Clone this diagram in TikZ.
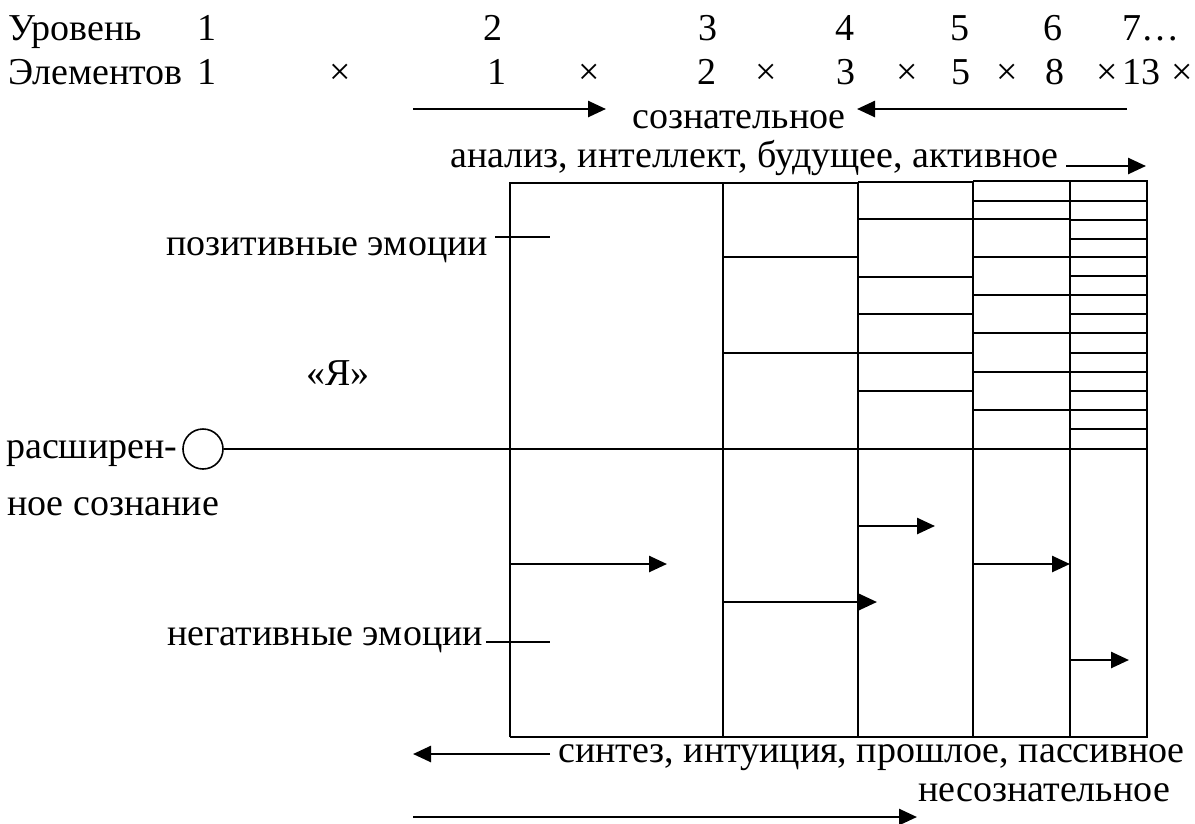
\documentclass[tikz,border=0pt]{standalone}
\usepackage{fontspec}
\setmainfont{Liberation Serif}
\newfontfamily\tnr{Liberation Serif}
\usetikzlibrary{arrows.meta}
\begin{document}
\begin{tikzpicture}[x=1pt,y=-1pt,
  txt/.style={inner sep=0pt,font=\tnr\fontsize{38}{42}\selectfont},
  lt/.style={txt,anchor=base west},
  ct/.style={txt,anchor=base},
  grid/.style={line width=1.6pt},
  arr/.style={line width=2.6pt,-{Triangle[length=18pt,width=16pt]}},
  ring/.style={circle,draw,line width=1.6pt,minimum size=40pt,inner sep=0pt}
]
\useasboundingbox (0,0) rectangle (1195,823);

% header rows
\node[lt] (lvl) at (8,40) {Уровень};
\node[ct] (l1) at (207,40) {1};
\node[ct] (l2) at (493,40) {2};
\node[ct] (l3) at (708,40) {3};
\node[ct] (l4) at (845,40) {4};
\node[ct] (l5) at (960,40) {5};
\node[ct] (l6) at (1053,40) {6};
\node[lt] (l7) at (1122,40) {7…};

\node[lt] (el) at (8,84) {Элементов};
\node[ct] (e1) at (207,84) {1};
\node[ct] (x1) at (340,84) {×};
\node[ct] (e2) at (497,84) {1};
\node[ct] (x2) at (589,84) {×};
\node[ct] (e3) at (707,84) {2};
\node[ct] (x3) at (766,84) {×};
\node[ct] (e4) at (846,84) {3};
\node[ct] (x4) at (907,84) {×};
\node[ct] (e5) at (961,84) {5};
\node[ct] (x5) at (1007,84) {×};
\node[ct] (e6) at (1055,84) {8};
\node[ct] (x6) at (1107,84) {×};
\node[ct] (e7) at (1141,84) {13};
\node[ct] (x7) at (1182,84) {×};

% top labels and arrows
\node[lt] (soz) at (632,128) {сознательное};
\coordinate (ta1) at (413,109); \coordinate (tb1) at (606,109);
\coordinate (ta2) at (1127,109); \coordinate (tb2) at (857,109);
\draw[arr] (ta1) -- (tb1);
\draw[arr] (ta2) -- (tb2);
\node[lt] (anl) at (450,167) {анализ, интеллект, будущее, активное};
\coordinate (ta3) at (1066,166); \coordinate (tb3) at (1146,166);
\draw[arr] (ta3) -- (tb3);

% box outline
\draw[grid] (510,737) -- (510,183) -- (858,183);
\draw[grid] (858,182) -- (973,182);
\draw[grid] (973,181) -- (1147,181) -- (1147,737) -- (510,737);
\draw[grid] (723,183) -- (723,737);
\draw[grid] (858,182) -- (858,737);
\draw[grid] (973,181) -- (973,737);
\draw[grid] (1070,181) -- (1070,737);

% subdivisions
\foreach \y in {257,353} \draw[grid] (723,\y) -- (858,\y);
\foreach \y in {219,277,314,353,391} \draw[grid] (858,\y) -- (973,\y);
\foreach \y in {201,219,257,295,333,372,410} \draw[grid] (973,\y) -- (1070,\y);
\foreach \y in {201,220,239,257,276,295,314,333,353,372,391,410,429} \draw[grid] (1070,\y) -- (1147,\y);

% ego line
\node[ring] (ego) at (203,449) {};
\coordinate (egoend) at (1147,449);
\draw[grid] (ego.east) -- (egoend);
\node[lt] (ya) at (306,385) {«Я»};
\node[lt] (ras1) at (6,458) {расширен-};
\node[lt] (ras2) at (7,515) {ное сознание};

% emotion labels with ticks
\node[lt] (pos) at (166,255) {позитивные эмоции};
\coordinate (pa) at (495,237); \coordinate (pb) at (550,237);
\draw[grid] (pa) -- (pb);
\node[lt] (neg) at (167,645) {негативные эмоции};
\coordinate (na) at (486,642); \coordinate (nb) at (550,642);
\draw[grid] (na) -- (nb);

% inner arrows
\coordinate (a1) at (510,564); \coordinate (b1) at (667,564);
\coordinate (a2) at (723,602); \coordinate (b2) at (877,602);
\coordinate (a3) at (858,526); \coordinate (b3) at (935,526);
\coordinate (a4) at (973,564); \coordinate (b4) at (1070,564);
\coordinate (a5) at (1070,660); \coordinate (b5) at (1129,660);
\draw[arr] (a1) -- (b1);
\draw[arr] (a2) -- (b2);
\draw[arr] (a3) -- (b3);
\draw[arr] (a4) -- (b4);
\draw[arr] (a5) -- (b5);

% bottom labels and arrows
\node[lt] (syn) at (558,762) {синтез, интуиция, прошлое, пассивное};
\coordinate (ba1) at (550,754); \coordinate (bb1) at (413,754);
\draw[arr] (ba1) -- (bb1);
\node[lt] (nes) at (918,801) {несознательное};
\coordinate (ba2) at (413,817); \coordinate (bb2) at (917,817);
\draw[arr] (ba2) -- (bb2);
\end{tikzpicture}
\end{document}
